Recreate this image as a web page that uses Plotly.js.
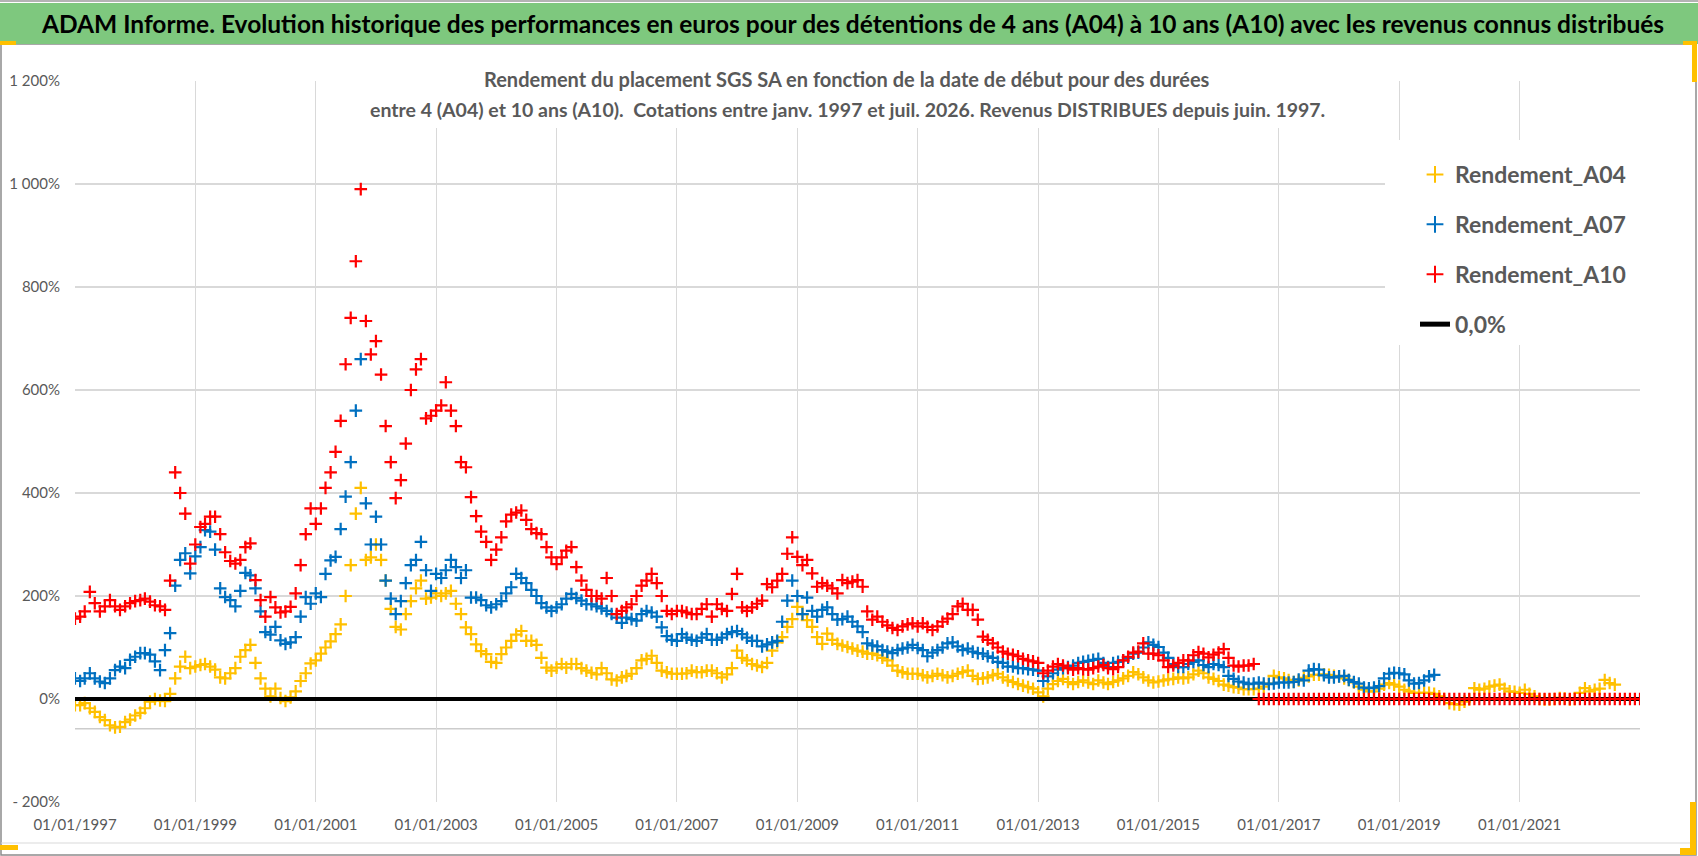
<!DOCTYPE html>
<html>
<head>
<meta charset="utf-8">
<script src="https://cdn.plot.ly/plotly-3.0.1.min.js"></script>
<style>
  html, body { margin: 0; padding: 0; background: #fff; }
  #chart { width: 1698px; height: 856px; }
</style>
</head>
<body>
<div id="chart"></div>
<script>
// Rendement (%), un point par mois à partir de janv. 1997
const rendementA04 = [
  -12, -12, -8, -18, -25, -35, -41, -51, -55, -54, -45, -40,     // 1997
  -32, -27, -18, -5, 0, -3, -4, 10, 40, 63, 82, 60,              // 1998
  63, 66, 68, 63, 57, 42, 40, 50, 60, 82, 95, 105,               // 1999
  70, 40, 20, 5, 20, 2, -4, 3, 15, 35, 50, 69,                   // 2000
  75, 88, 100, 112, 126, 145, 200, 260, 360, 410, 270, 275,      // 2001
  300, 270, 230, 175, 140, 135, 165, 190, 215, 230, 195, 197,    // 2002
  205, 200, 205, 210, 185, 165, 139, 126, 106, 93, 87, 72,       // 2003
  70, 87, 100, 113, 125, 132, 113, 113, 105, 80, 61, 55,         // 2004
  61, 68, 61, 68, 68, 60, 55, 51, 48, 60, 50, 38,                // 2005
  36, 42, 45, 49, 60, 75, 78, 84, 70, 55, 52, 49,                // 2006
  49, 49, 50, 55, 52, 52, 55, 55, 50, 42, 48, 60,                // 2007
  94, 80, 75, 68, 65, 62, 70, 94, 110, 120, 140, 155,            // 2008
  179, 165, 153, 140, 120, 107, 127, 115, 107, 104, 101, 98,     // 2009
  94, 92, 88, 88, 85, 80, 75, 65, 55, 52, 49, 49,                // 2010
  49, 46, 42, 45, 49, 46, 42, 45, 49, 52, 55, 45,                // 2011
  39, 40, 42, 46, 49, 42, 36, 33, 29, 26, 23, 20,                // 2012
  13, 5, 20, 29, 35, 39, 33, 29, 33, 36, 32, 29,                 // 2013
  36, 32, 29, 33, 36, 40, 45, 52, 48, 42, 36, 32,                // 2014
  34, 36, 38, 39, 42, 40, 42, 48, 55, 50, 42, 39,                // 2015
  35, 28, 26, 23, 22, 19, 19, 19, 20, 24, 30, 45,                // 2016
  42, 40, 37, 33, 36, 41, 44, 47, 47, 48, 47, 45,                // 2017
  44, 40, 37, 32, 24, 18, 15, 15, 20, 28, 31, 28,                // 2018
  24, 18, 15, 12, 12, 12, 12, 10, 5, 0, -8, -10,                 // 2019
  -11, -5, -1, 21, 18, 20, 24, 26, 28, 20, 15, 14,               // 2020
  12, 18, 10, 5, 0, -1, -1, 0, 2, 1, -1, 0,                      // 2021
  12, 21, 15, 18, 20, 37, 31, 28                                 // 2022
];

const rendementA07 = [
  40, 35, 40, 50, 40, 34, 31, 40, 56, 63, 60, 76,                // 1997
  82, 89, 89, 86, 73, 56, 95, 128, 220, 270, 283, 244,           // 1998
  277, 295, 328, 325, 290, 215, 198, 192, 180, 210, 245, 240,    // 1999
  215, 170, 130, 125, 140, 114, 107, 110, 120, 160, 198, 185,    // 2000
  205, 198, 243, 269, 276, 330, 393, 460, 560, 660, 380, 300,    // 2001
  354, 300, 230, 195, 165, 190, 225, 260, 270, 305, 250, 210,    // 2002
  243, 235, 250, 270, 256, 235, 250, 197, 197, 192, 182, 178,    // 2003
  184, 190, 205, 217, 243, 235, 225, 212, 200, 186, 178, 171,    // 2004
  178, 184, 195, 204, 196, 191, 184, 184, 180, 176, 171, 165,    // 2005
  158, 148, 158, 155, 152, 165, 171, 168, 160, 139, 122, 115,    // 2006
  113, 126, 119, 115, 113, 119, 126, 115, 115, 119, 126, 130,    // 2007
  132, 126, 119, 113, 113, 102, 106, 110, 113, 150, 191, 230,    // 2008
  200, 165, 197, 171, 160, 173, 178, 165, 154, 155, 160, 150,    // 2009
  141, 130, 108, 104, 102, 95, 92, 89, 95, 98, 100, 105,         // 2010
  99, 95, 83, 90, 95, 100, 108, 110, 102, 95, 98, 92,            // 2011
  89, 88, 83, 80, 72, 70, 63, 63, 60, 60, 58, 57,                // 2012
  55, 35, 44, 50, 57, 60, 62, 65, 70, 72, 74, 76,                // 2013
  78, 70, 62, 70, 72, 75, 80, 88, 90, 100, 110, 105,             // 2014
  101, 90, 80, 68, 62, 62, 68, 72, 75, 66, 62, 68,               // 2015
  66, 62, 45, 39, 34, 32, 29, 30, 32, 30, 29, 30,                // 2016
  32, 32, 32, 33, 38, 36, 55, 58, 57, 46, 42, 42,                // 2017
  44, 45, 37, 33, 30, 22, 21, 22, 25, 40, 49, 51,                // 2018
  50, 48, 36, 30, 31, 36, 44, 47                                 // 2019
];

const rendementA10 = [
  156, 160, 170, 208, 186, 170, 180, 192, 180, 173, 180, 186,    // 1997
  190, 192, 195, 189, 182, 180, 173, 230, 440, 400, 360, 263,    // 1998
  300, 334, 340, 354, 354, 320, 285, 268, 263, 270, 295, 302,    // 1999
  231, 192, 160, 198, 178, 168, 170, 179, 205, 260, 320, 370,    // 2000
  340, 370, 410, 440, 480, 540, 650, 740, 850, 990, 734, 669,    // 2001
  695, 630, 530, 460, 390, 425, 496, 600, 640, 660, 545, 550,    // 2002
  560, 570, 615, 560, 530, 460, 450, 392, 355, 325, 305, 270,    // 2003
  290, 314, 345, 358, 362, 366, 348, 330, 322, 320, 295, 275,    // 2004
  262, 275, 288, 295, 256, 230, 212, 200, 200, 195, 235, 200,    // 2005
  165, 171, 178, 184, 200, 220, 230, 243, 225, 200, 171, 165,    // 2006
  171, 171, 168, 165, 165, 175, 184, 160, 184, 175, 171, 204,    // 2007
  243, 178, 171, 178, 185, 191, 223, 217, 230, 243, 282, 314,    // 2008
  276, 260, 270, 244, 218, 225, 220, 215, 205, 231, 225, 228,    // 2009
  231, 218, 170, 154, 160, 150, 143, 138, 134, 141, 145, 147,    // 2010
  141, 147, 140, 134, 141, 150, 156, 165, 180, 185, 173, 173,    // 2011
  154, 121, 115, 108, 100, 92, 88, 86, 83, 78, 75, 73,           // 2012
  70, 50, 55, 63, 68, 65, 60, 57, 60, 58, 57, 60,                // 2013
  63, 66, 60, 58, 62, 75, 82, 90, 92, 108, 88, 88,               // 2014
  85, 75, 62, 65, 70, 75, 75, 85, 91, 88, 81, 86,                // 2015
  90, 97, 80, 65, 63, 65, 65, 68,                                // 2016 (jusqu'à août)
  0, 0, 0, 0,                                                    // 2016 (sans donnée)
  0, 0, 0, 0, 0, 0, 0, 0, 0, 0, 0, 0,                            // 2017
  0, 0, 0, 0, 0, 0, 0, 0, 0, 0, 0, 0,                            // 2018
  0, 0, 0, 0, 0, 0, 0, 0, 0, 0, 0, 0,                            // 2019
  0, 0, 0, 0, 0, 0, 0, 0, 0, 0, 0, 0,                            // 2020
  0, 0, 0, 0, 0, 0, 0, 0, 0, 0, 0, 0,                            // 2021
  0, 0, 0, 0, 0, 0, 0, 0, 0, 0, 0, 0,                            // 2022
  0                                                              // 2023
];

const ligneZeroDates = ["1997-01-01", "2023-01-01"];
const ligneZero = [0, 0];

const xTickVals = ["1997-01-01", "1999-01-01", "2001-01-01", "2003-01-01", "2005-01-01",
  "2007-01-01", "2009-01-01", "2011-01-01", "2013-01-01", "2015-01-01",
  "2017-01-01", "2019-01-01", "2021-01-01"];
const xTickText = ["01/01/1997", "01/01/1999", "01/01/2001", "01/01/2003", "01/01/2005",
  "01/01/2007", "01/01/2009", "01/01/2011", "01/01/2013", "01/01/2015",
  "01/01/2017", "01/01/2019", "01/01/2021"];
const yTickVals = [-200, 0, 200, 400, 600, 800, 1000, 1200];
const yTickText = ["- 200%", "0%", "200%", "400%", "600%", "800%", "1 000%", "1 200%"];

// dates mensuelles (1er du mois) à partir de janv. 1997
function monthlyDates(count) {
  const out = [];
  for (let i = 0; i < count; i++) {
    const y = 1997 + Math.floor(i / 12);
    const m = (i % 12) + 1;
    out.push(`${y}-${String(m).padStart(2, "0")}-01`);
  }
  return out;
}

// --- mise en page (pixels) ---
const W = 1698, H = 856;
const ML = 75, MR = 58, MT = 81, MB = 54;
const PW = W - ML - MR, PH = H - MT - MB;
const px = x => (x - ML) / PW;          // pixel -> paper x
const py = y => (MT + PH - y) / PH;     // pixel -> paper y

const FONT = "Lato, 'Liberation Sans', sans-serif";
const GREY = "#595959";

function cross(name, color, x, y, rank) {
  return {
    type: "scatter", mode: "markers", name, x, y,
    legendgroup: name, legendrank: rank,
    marker: { symbol: "cross-thin", size: 9, color, line: { color, width: 2.2 } },
    hoverinfo: "x+y",
  };
}

const traces = [
  cross("Rendement_A04", "#FFC000", monthlyDates(rendementA04.length), rendementA04, 1),
  cross("Rendement_A07", "#0070C0", monthlyDates(rendementA07.length), rendementA07, 2),
  {
    type: "scatter", mode: "lines", name: "0,0%", x: ligneZeroDates, y: ligneZero,
    legendgroup: "zero", legendrank: 4,
    line: { color: "#000000", width: 4 }, hoverinfo: "skip",
  },
  cross("Rendement_A10", "#FF0000", monthlyDates(rendementA10.length), rendementA10, 3),
];

const layout = {
  width: W, height: H,
  margin: { l: ML, r: MR, t: MT, b: MB },
  paper_bgcolor: "#ffffff", plot_bgcolor: "#ffffff",
  font: { family: FONT, color: GREY },
  showlegend: true,
  legend: {
    x: px(1415), y: py(153), xanchor: "left", yanchor: "top",
    bgcolor: "rgba(255,255,255,0)", borderwidth: 0,
    traceorder: "grouped", tracegroupgap: 17, itemsizing: "constant",
    font: { family: FONT, size: 23, color: GREY, weight: "bold" },
  },
  xaxis: {
    type: "date", range: ["1997-01-01", "2023-01-01"],
    tickmode: "array", tickvals: xTickVals, ticktext: xTickText,
    showgrid: true, gridcolor: "#d9d9d9", gridwidth: 1,
    zeroline: false, showline: false, ticks: "",
    tickfont: { family: FONT, size: 15, color: GREY },
    ticklabelstandoff: 12,
  },
  yaxis: {
    range: [-200, 1200],
    tickmode: "array", tickvals: yTickVals, ticktext: yTickText,
    showgrid: true, gridcolor: "#d9d9d9", gridwidth: 1.5,
    zeroline: false, showline: false, ticks: "",
    tickfont: { family: FONT, size: 15, color: GREY },
    ticklabelstandoff: 14,
  },
  shapes: [
    // cadre du graphique
    { type: "rect", xref: "paper", yref: "paper", x0: px(1), x1: px(1696), y0: py(855), y1: py(44),
      line: { color: "#8c8c8c", width: 1.5 }, fillcolor: "rgba(0,0,0,0)", layer: "below" },
    { type: "line", xref: "paper", yref: "paper", x0: px(1), x1: px(1690), y0: py(843), y1: py(843),
      line: { color: "#d9d9d9", width: 1 }, layer: "below" },
    // ligne grise vers -58 %
    { type: "line", xref: "paper", yref: "y", x0: 0, x1: 1, y0: -58, y1: -58,
      line: { color: "#cccccc", width: 1.5 }, layer: "below" },
    // bandeau vert du titre
    { type: "rect", xref: "paper", yref: "paper", x0: px(0), x1: px(1698), y0: py(44), y1: py(3),
      line: { width: 0 }, fillcolor: "#7ec87e", layer: "above" },
    { type: "line", xref: "paper", yref: "paper", x0: px(0), x1: px(1698), y0: py(1), y1: py(1),
      line: { color: "#9a9a9a", width: 1.5 }, layer: "above" },
    // marques jaunes des coins
    { type: "rect", xref: "paper", yref: "paper", x0: px(0), x1: px(16), y0: py(45), y1: py(41),
      line: { width: 0 }, fillcolor: "#FFC000", layer: "above" },
    { type: "rect", xref: "paper", yref: "paper", x0: px(1683), x1: px(1697), y0: py(45), y1: py(41),
      line: { width: 0 }, fillcolor: "#FFC000", layer: "above" },
    { type: "rect", xref: "paper", yref: "paper", x0: px(1692), x1: px(1697), y0: py(82), y1: py(41),
      line: { width: 0 }, fillcolor: "#FFC000", layer: "above" },
    { type: "rect", xref: "paper", yref: "paper", x0: px(0), x1: px(18), y0: py(850), y1: py(845),
      line: { width: 0 }, fillcolor: "#FFC000", layer: "above" },
    { type: "rect", xref: "paper", yref: "paper", x0: px(1680), x1: px(1696), y0: py(855), y1: py(848),
      line: { width: 0 }, fillcolor: "#FFC000", layer: "above" },
    { type: "rect", xref: "paper", yref: "paper", x0: px(1690), x1: px(1696), y0: py(855), y1: py(802),
      line: { width: 0 }, fillcolor: "#FFC000", layer: "above" },
    // fond blanc du sous-titre et de la légende
    { type: "rect", xref: "paper", yref: "paper", x0: px(349), x1: px(1348), y0: py(128), y1: py(62),
      line: { width: 0 }, fillcolor: "#ffffff", layer: "above" },
    { type: "rect", xref: "paper", yref: "paper", x0: px(1385), x1: px(1640), y0: py(345), y1: py(140),
      line: { width: 0 }, fillcolor: "#ffffff", layer: "above" },
  ],
  annotations: [
    { xref: "paper", yref: "paper", x: px(852), y: py(23), xanchor: "center", yanchor: "middle",
      showarrow: false,
      text: "ADAM Informe. Evolution historique des performances en euros pour des détentions de 4 ans (A04) à 10 ans (A10) avec les revenus connus distribués",
      font: { family: FONT, size: 24.5, color: "#000000", weight: "bold" } },
    { xref: "paper", yref: "paper", x: px(847), y: py(79), xanchor: "center", yanchor: "middle",
      showarrow: false,
      text: "Rendement du placement SGS SA en fonction de la date de début pour des durées",
      font: { family: FONT, size: 20, color: GREY, weight: "bold" } },
    { xref: "paper", yref: "paper", x: px(847), y: py(110), xanchor: "center", yanchor: "middle",
      showarrow: false,
      text: "entre 4 (A04) et 10 ans (A10).  Cotations entre janv. 1997 et juil. 2026. Revenus DISTRIBUES depuis juin. 1997.",
      font: { family: FONT, size: 19.5, color: GREY, weight: "bold" } },
  ],
};

Plotly.newPlot("chart", traces, layout, { displayModeBar: false, staticPlot: true });
</script>
</body>
</html>
